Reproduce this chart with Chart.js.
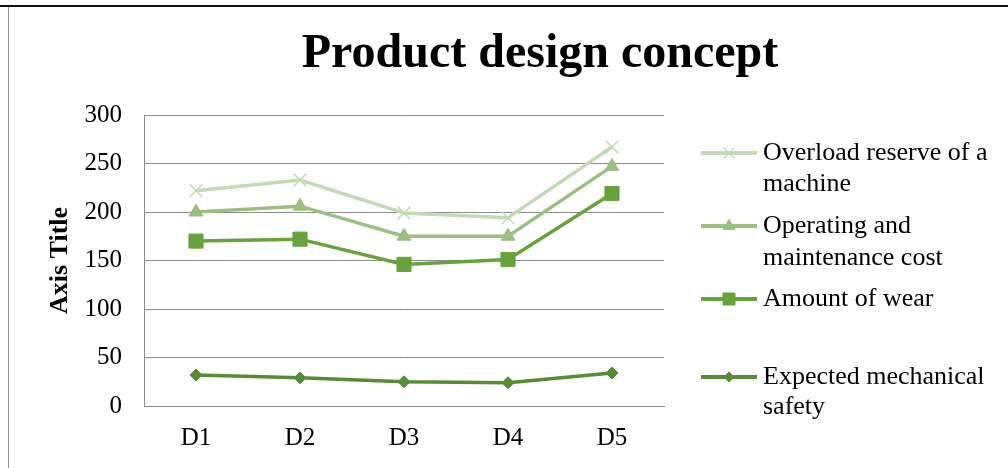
<!DOCTYPE html>
<html>
<head>
<meta charset="utf-8">
<script src="https://cdn.jsdelivr.net/npm/chart.js@4/dist/chart.umd.min.js"></script>
<style>
  html, body { margin: 0; padding: 0; background: #fff; }
  #frame { position: absolute; left: 0; top: 5px; width: 1008px; height: 463px; border-top: 2px solid #111; box-sizing: border-box; }
  #inner { position: absolute; left: 8px; top: 0; width: 1000px; height: 461px; border-left: 1px solid #9a9a9a; }
  #wrap { position: absolute; left: 1px; top: 0; width: 999px; height: 461px; }
</style>
</head>
<body>
<div id="frame"><div id="inner"><div id="wrap"><canvas id="chart"></canvas></div></div></div>
<script>
// Product design concept - four criteria over designs D1..D5

const categories = ['D1', 'D2', 'D3', 'D4', 'D5'];
const seriesNames = [
  ['Overload reserve of a', 'machine'],
  ['Operating and', 'maintenance cost'],
  ['Amount of wear'],
  ['Expected mechanical', 'safety']
];
const overloadReserve = [222, 233, 199, 194, 267];
const operatingCost = [200, 206, 175, 175, 247];
const amountOfWear = [170, 172, 146, 151, 219];
const mechanicalSafety = [32, 29, 25, 24, 34];
const yTicks = [0, 50, 100, 150, 200, 250, 300];

const SERIF = '"Liberation Serif", "Times New Roman", serif';
const colors = ['#c4dab7', '#9bbf80', '#68a23e', '#588b36'];
const markers = ['crossRot', 'triangle', 'rect', 'rectRot'];
const radii = [9, 8, 10, 6];

function makeSet(i, data) {
  return {
    label: seriesNames[i].join(' '),
    data: data,
    borderColor: colors[i],
    backgroundColor: colors[i],
    pointBorderColor: colors[i],
    pointBackgroundColor: colors[i],
    pointStyle: markers[i],
    pointRadius: radii[i],
    pointBorderWidth: i === 0 ? 1.5 : 1,
    borderWidth: 3.5,
    tension: 0,
    fill: false
  };
}

// custom title, offset to the right like the original
const titlePlugin = {
  id: 'bigTitle',
  afterDraw(chart) {
    const ctx = chart.ctx;
    ctx.save();
    ctx.font = 'bold 48px ' + SERIF;
    ctx.fillStyle = '#000';
    ctx.textAlign = 'center';
    ctx.textBaseline = 'middle';
    ctx.fillText('Product design concept', 530, 48);
    ctx.restore();
  }
};

// legend with line + marker and wrapped text
const legendPlugin = {
  id: 'sideLegend',
  afterDraw(chart) {
    const ctx = chart.ctx;
    const rows = [[146, 177], [219, 251], [292], [370, 400]];
    ctx.save();
    chart.data.datasets.forEach((ds, i) => {
      const y = rows[i][0];
      ctx.strokeStyle = ds.borderColor;
      ctx.lineWidth = 4;
      ctx.beginPath();
      ctx.moveTo(691, y);
      ctx.lineTo(747, y);
      ctx.stroke();
      ctx.fillStyle = ds.pointBackgroundColor;
      ctx.strokeStyle = ds.pointBorderColor;
      ctx.lineWidth = ds.pointBorderWidth;
      Chart.helpers.drawPoint(ctx, { pointStyle: ds.pointStyle, radius: ds.pointRadius * 0.85, borderWidth: ds.pointBorderWidth }, 719, y);
      ctx.fillStyle = '#000';
      ctx.font = '26px ' + SERIF;
      ctx.textAlign = 'left';
      ctx.textBaseline = 'middle';
      seriesNames[i].forEach((t, k) => ctx.fillText(t, 753, rows[i][k]));
    });
    ctx.restore();
  }
};

new Chart(document.getElementById('chart'), {
  type: 'line',
  data: {
    labels: categories,
    datasets: [
      makeSet(0, overloadReserve),
      makeSet(1, operatingCost),
      makeSet(2, amountOfWear),
      makeSet(3, mechanicalSafety)
    ]
  },
  options: {
    responsive: true,
    maintainAspectRatio: false,
    animation: false,
    layout: { padding: { top: 108, right: 345, bottom: 0, left: 0 } },
    plugins: {
      legend: { display: false },
      title: { display: false },
      tooltip: { enabled: false }
    },
    scales: {
      x: {
        offset: true,
        grid: { display: false, drawTicks: false },
        border: { display: true, color: '#8c8c8c', width: 1 },
        ticks: { color: '#000', font: { family: SERIF, size: 25 }, padding: 17 },
        afterFit(s) { s.height = 62; }
      },
      y: {
        min: 0,
        max: 300,
        afterBuildTicks(s) { s.ticks = yTicks.map(v => ({ value: v })); },
        grid: { color: '#8c8c8c', lineWidth: 1, drawTicks: false },
        border: { display: true, color: '#8c8c8c', width: 1 },
        ticks: { color: '#000', font: { family: SERIF, size: 25 }, padding: 22 },
        title: {
          display: true,
          text: 'Axis Title',
          color: '#000',
          font: { family: SERIF, size: 26, weight: 'bold' },
          padding: { top: 35, bottom: 0 }
        },
        afterFit(s) { s.width = 134; }
      }
    }
  },
  plugins: [titlePlugin, legendPlugin]
});
</script>
</body>
</html>
